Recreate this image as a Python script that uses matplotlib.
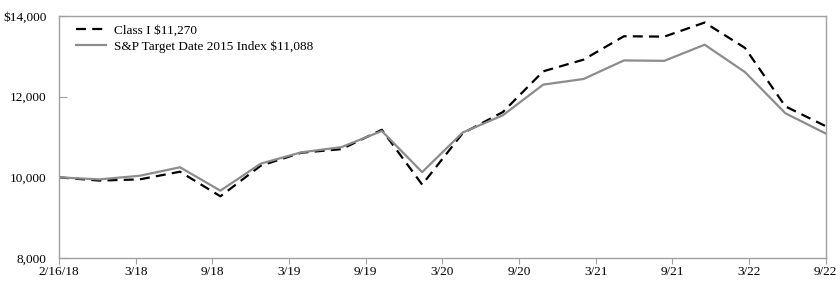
import numpy as np
import matplotlib
matplotlib.use("Agg")
import matplotlib.pyplot as plt

# quarterly values of a $10,000 investment
class_i = [10000, 9920, 9950, 10140, 9530, 10290, 10610, 10700, 11180, 9820,
           11090, 11620, 12630, 12920, 13500, 13490, 13840, 13210, 11760, 11270]
index_2015 = [10000, 9950, 10040, 10250, 9670, 10340, 10620, 10750, 11150, 10130,
              11110, 11540, 12300, 12440, 12900, 12890, 13290, 12610, 11590, 11088]
tick_labels = ["2/16/18", "3/18", "9/18", "3/19", "9/19", "3/20",
               "9/20", "3/21", "9/21", "3/22", "9/22"]
y_ticks = [8000, 10000, 12000, 14000]
y_tick_labels = ["8,000", "10,000", "12,000", "$14,000"]

plt.rcParams['font.family'] = ['Liberation Serif', 'DejaVu Serif']


def main():
    fig = plt.figure(figsize=(8.4, 2.87), dpi=100)
    ax = fig.add_axes([0.0702, 0.101, 0.9128, 0.843])

    x = np.arange(len(class_i))
    ax.plot(x, class_i, color='black', lw=1.6, dashes=(4.5, 2.8),
            label='Class I $11,270')
    ax.plot(x, index_2015, color='#8c8c8c', lw=1.6,
            label='S&P Target Date 2015 Index $11,088')

    ax.set_xlim(0, len(class_i) - 1)
    ax.set_ylim(8000, 14000)
    ax.set_xticks(np.linspace(0, len(class_i) - 1, len(tick_labels)))
    ax.set_xticklabels(tick_labels)
    ax.set_yticks(y_ticks)
    ax.set_yticklabels(y_tick_labels)

    for s in ax.spines.values():
        s.set_color('#a0a0a0')
        s.set_linewidth(1.0)
    ax.tick_params(axis='x', direction='out', length=4, color='#a0a0a0',
                   labelsize=9.5, pad=2)
    ax.tick_params(axis='y', direction='in', length=6, color='#a0a0a0',
                   labelsize=9.5, pad=9)

    ax.legend(loc='upper left', frameon=False, fontsize=9.5, handlelength=2.3,
              handletextpad=0.6, labelspacing=0.3, borderpad=0,
              borderaxespad=0, bbox_to_anchor=(0.022, 0.967))

    fig.savefig("out.png", dpi=100)


if __name__ == "__main__":
    main()
